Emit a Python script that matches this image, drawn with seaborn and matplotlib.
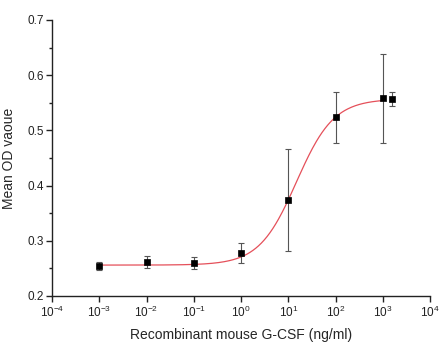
import numpy as np
import pandas as pd
import seaborn as sns
import matplotlib
matplotlib.use("Agg")
from matplotlib import pyplot as plt
from matplotlib.ticker import MultipleLocator, FixedLocator

# Measured data (concentration in ng/ml, mean OD and error bar limits)
conc = [1e-3, 1e-2, 1e-1, 1e0, 1e1, 1e2, 1e3, 1600]
od_mean = [0.255, 0.262, 0.259, 0.278, 0.374, 0.524, 0.558, 0.556]
err_low = [0.247, 0.250, 0.249, 0.259, 0.282, 0.478, 0.478, 0.545]
err_high = [0.262, 0.272, 0.270, 0.296, 0.466, 0.570, 0.638, 0.570]

# Dose-response fit parameters (Origin DoseResp)
fit_bottom = 0.256
fit_top = 0.557
fit_logx0 = 1.173
fit_hill = 1.10

sns.set_style("ticks")
plt.rcParams["font.family"] = ["Liberation Sans", "DejaVu Sans"]
plt.rcParams["mathtext.default"] = "regular"

df = pd.DataFrame({"conc": conc, "od": od_mean})
yerr = [np.array(od_mean) - np.array(err_low), np.array(err_high) - np.array(od_mean)]

logx = np.linspace(-3, 3, 300)
fit = pd.DataFrame({
    "conc": 10 ** logx,
    "od": fit_bottom + (fit_top - fit_bottom) / (1 + 10 ** ((fit_logx0 - logx) * fit_hill)),
})

fig = plt.figure(figsize=(4.48, 3.56), dpi=100)
ax = fig.add_axes([52 / 448, 60 / 356, 378 / 448, 276 / 356])

sns.lineplot(data=fit, x="conc", y="od", color="#e5505a", linewidth=0.9, ax=ax)
ax.errorbar(conc, od_mean, yerr=yerr, fmt="none", ecolor="#555555",
            elinewidth=0.8, capsize=2.5, capthick=0.8, zorder=3)
sns.scatterplot(data=df, x="conc", y="od", marker="s", s=20, color="black",
                edgecolor="black", linewidth=0.5, ax=ax, zorder=4)

ax.set_xscale("log")
ax.set_xlim(1e-4, 1e4)
ax.set_ylim(0.2, 0.7)
ax.xaxis.set_major_locator(FixedLocator([10.0 ** k for k in range(-4, 5)]))
ax.xaxis.set_minor_locator(FixedLocator([]))
ax.yaxis.set_major_locator(MultipleLocator(0.1))
ax.yaxis.set_minor_locator(MultipleLocator(0.05))
ax.set_yticklabels([f"{v:.1f}" for v in ax.get_yticks()])

sns.despine(ax=ax)
for side in ["left", "bottom"]:
    ax.spines[side].set_linewidth(1.0)
    ax.spines[side].set_color("#222222")
ax.tick_params(which="major", length=4, width=1.0, labelsize=8.5, colors="#222222", pad=2)
ax.tick_params(which="minor", length=2.5, width=1.0, colors="#222222")

ax.set_xlabel("Recombinant mouse G-CSF (ng/ml)", fontsize=10, labelpad=6)
ax.set_ylabel("Mean OD vaoue", fontsize=10, labelpad=8)

fig.savefig("out.png", dpi=100, facecolor="white")
